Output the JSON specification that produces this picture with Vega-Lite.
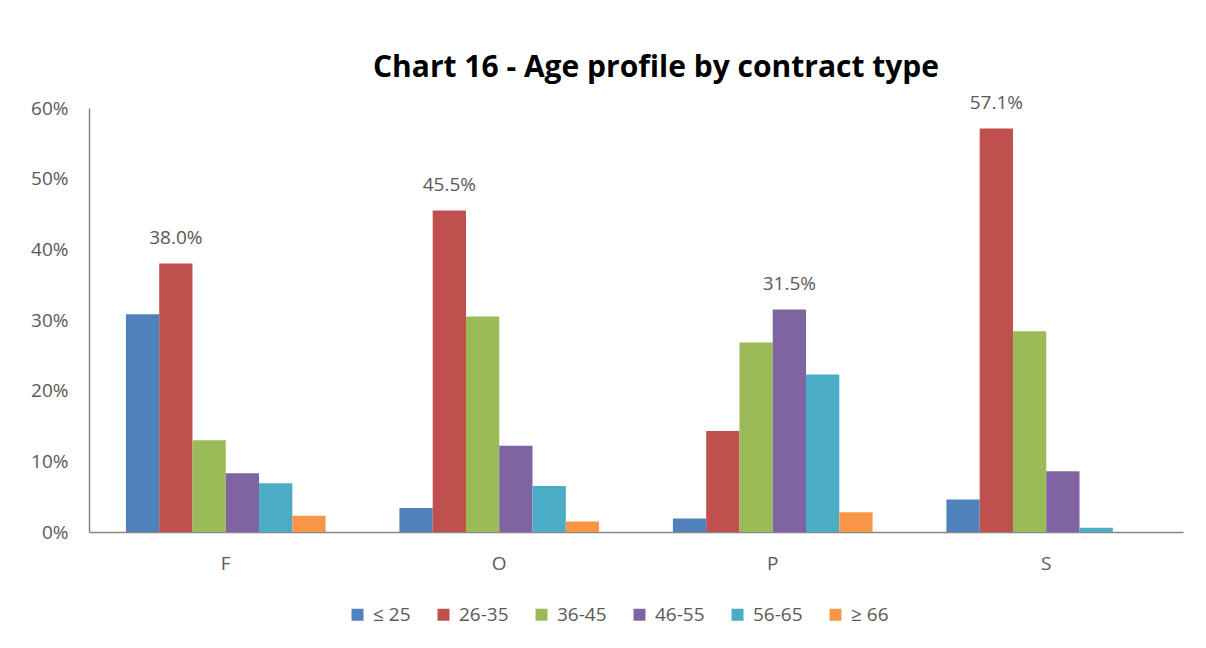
{
  "$schema": "https://vega.github.io/schema/vega-lite/v6.json",
  "width": 1094,
  "height": 424,
  "autosize": {"type": "none"},
  "padding": {"left": 89, "top": 108, "right": 23, "bottom": 116},
  "background": "white",
  "title": {
    "text": "Chart 16 - Age profile by contract type",
    "font": "Open Sans",
    "fontSize": 30,
    "fontWeight": "bold",
    "color": "#000000",
    "anchor": "middle",
    "dx": 20,
    "offset": 11
  },
  "config": {
    "view": {"stroke": null},
    "font": "Open Sans"
  },
  "data": {
    "values": [
      {"contract": "F", "age": "≤ 25", "share": 0.308, "labelled": false},
      {"contract": "F", "age": "26-35", "share": 0.380, "labelled": true},
      {"contract": "F", "age": "36-45", "share": 0.130, "labelled": false},
      {"contract": "F", "age": "46-55", "share": 0.083, "labelled": false},
      {"contract": "F", "age": "56-65", "share": 0.069, "labelled": false},
      {"contract": "F", "age": "≥ 66", "share": 0.023, "labelled": false},
      {"contract": "O", "age": "≤ 25", "share": 0.034, "labelled": false},
      {"contract": "O", "age": "26-35", "share": 0.455, "labelled": true},
      {"contract": "O", "age": "36-45", "share": 0.305, "labelled": false},
      {"contract": "O", "age": "46-55", "share": 0.122, "labelled": false},
      {"contract": "O", "age": "56-65", "share": 0.065, "labelled": false},
      {"contract": "O", "age": "≥ 66", "share": 0.015, "labelled": false},
      {"contract": "P", "age": "≤ 25", "share": 0.019, "labelled": false},
      {"contract": "P", "age": "26-35", "share": 0.143, "labelled": false},
      {"contract": "P", "age": "36-45", "share": 0.268, "labelled": false},
      {"contract": "P", "age": "46-55", "share": 0.315, "labelled": true},
      {"contract": "P", "age": "56-65", "share": 0.223, "labelled": false},
      {"contract": "P", "age": "≥ 66", "share": 0.028, "labelled": false},
      {"contract": "S", "age": "≤ 25", "share": 0.046, "labelled": false},
      {"contract": "S", "age": "26-35", "share": 0.571, "labelled": true},
      {"contract": "S", "age": "36-45", "share": 0.284, "labelled": false},
      {"contract": "S", "age": "46-55", "share": 0.086, "labelled": false},
      {"contract": "S", "age": "56-65", "share": 0.006, "labelled": false},
      {"contract": "S", "age": "≥ 66", "share": 0.0, "labelled": false}
    ]
  },
  "encoding": {
    "x": {
      "field": "contract",
      "type": "nominal",
      "scale": {"paddingInner": 0.27, "paddingOuter": 0.135},
      "axis": {
        "title": null,
        "labelAngle": 0,
        "ticks": false,
        "domainColor": "#868686",
        "domainWidth": 1.5,
        "labelPadding": 22,
        "labelFontSize": 19,
        "labelColor": "#595959",
        "labelFont": "Open Sans"
      }
    },
    "xOffset": {
      "field": "age",
      "type": "nominal",
      "scale": {"domain": ["≤ 25", "26-35", "36-45", "46-55", "56-65", "≥ 66"], "paddingInner": 0, "paddingOuter": 0}
    },
    "y": {
      "field": "share",
      "type": "quantitative",
      "scale": {"domain": [0, 0.6], "nice": false},
      "axis": {
        "title": null,
        "format": ".0%",
        "values": [0, 0.1, 0.2, 0.3, 0.4, 0.5, 0.6],
        "grid": false,
        "ticks": false,
        "domainColor": "#868686",
        "domainWidth": 1.5,
        "labelPadding": 21,
        "labelFontSize": 19,
        "labelColor": "#595959",
        "labelFont": "Open Sans"
      }
    }
  },
  "layer": [
    {
      "mark": {"type": "bar"},
      "encoding": {
        "color": {
          "field": "age",
          "type": "nominal",
          "scale": {
            "domain": ["≤ 25", "26-35", "36-45", "46-55", "56-65", "≥ 66"],
            "range": ["#4F81BD", "#C0504D", "#9BBB59", "#8064A2", "#4BACC6", "#F79646"]
          },
          "legend": {
            "title": null,
            "orient": "none",
            "direction": "horizontal",
            "legendX": 259,
            "legendY": 497,
            "symbolType": "square",
            "symbolSize": 144,
            "symbolStrokeWidth": 0,
            "labelFontSize": 19,
            "labelColor": "#595959",
            "labelFont": "Open Sans",
            "labelOffset": 6,
            "columnPadding": 23
          }
        }
      }
    },
    {
      "transform": [{"filter": "datum.labelled"}],
      "mark": {"type": "text", "baseline": "alphabetic", "dy": -19, "fontSize": 19, "color": "#595959", "font": "Open Sans"},
      "encoding": {
        "text": {"field": "share", "type": "quantitative", "format": ".1%"}
      }
    }
  ]
}
